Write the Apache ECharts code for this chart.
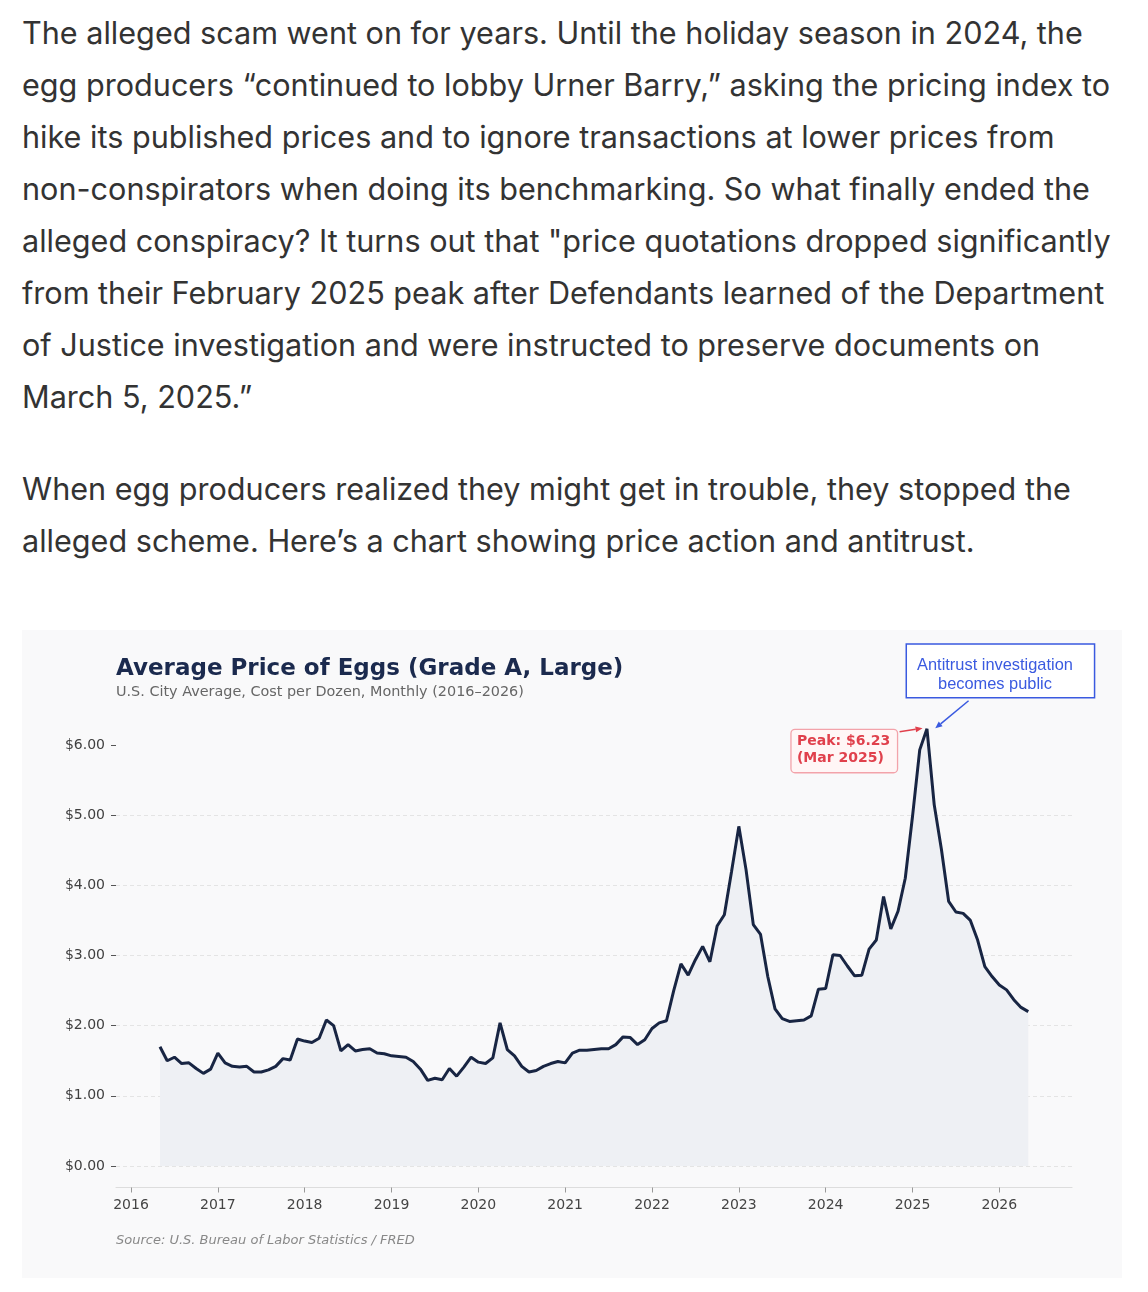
<!DOCTYPE html>
<html>
<head>
<meta charset="utf-8">
<script src="https://cdn.jsdelivr.net/npm/echarts@6/dist/echarts.min.js"></script>
<style>
  html, body { margin: 0; padding: 0; background: #ffffff; }
  body { width: 1148px; height: 1292px; position: relative; overflow: hidden; }
  #text { position: absolute; left: 22px; top: 7px; font-family: Inter, "Noto Sans", sans-serif;
          font-size: 30.6px; line-height: 52px; color: #333333; }
  #text p { margin: 0 0 40px 0; }
  #text span { display: block; white-space: nowrap; }
  #chart { position: absolute; left: 22px; top: 630px; width: 1100px; height: 648px; }
</style>
</head>
<body>
<div id="text">
  <p>
    <span>The alleged scam went on for years. Until the holiday season in 2024, the</span>
    <span>egg producers “continued to lobby Urner Barry,” asking the pricing index to</span>
    <span>hike its published prices and to ignore transactions at lower prices from</span>
    <span>non-conspirators when doing its benchmarking. So what finally ended the</span>
    <span>alleged conspiracy? It turns out that "price quotations dropped significantly</span>
    <span>from their February 2025 peak after Defendants learned of the Department</span>
    <span>of Justice investigation and were instructed to preserve documents on</span>
    <span>March 5, 2025.”</span>
  </p>
  <p>
    <span>When egg producers realized they might get in trouble, they stopped the</span>
    <span>alleged scheme. Here’s a chart showing price action and antitrust.</span>
  </p>
</div>
<div id="chart"></div>
<script>
// monthly average price per dozen, starting May 2016
const startYear = 2016;
const startMonth = 5;
const prices = [
  1.70, 1.50, 1.55, 1.46, 1.47, 1.39, 1.32, 1.38,
  1.61, 1.47, 1.42, 1.41, 1.42, 1.34, 1.34, 1.37, 1.42, 1.53, 1.51, 1.81,
  1.78, 1.76, 1.82, 2.08, 2.00, 1.64, 1.73, 1.64, 1.66, 1.67, 1.61, 1.60,
  1.57, 1.56, 1.55, 1.49, 1.38, 1.22, 1.25, 1.23, 1.39, 1.28, 1.41, 1.55,
  1.48, 1.46, 1.54, 2.04, 1.66, 1.57, 1.42, 1.34, 1.36, 1.42, 1.46, 1.49,
  1.47, 1.61, 1.65, 1.65, 1.66, 1.67, 1.67, 1.73, 1.84, 1.83, 1.73, 1.80,
  1.96, 2.04, 2.07, 2.50, 2.88, 2.72, 2.94, 3.13, 2.91, 3.42, 3.58, 4.20,
  4.84, 4.22, 3.44, 3.30, 2.70, 2.24, 2.10, 2.06, 2.07, 2.08, 2.14, 2.52,
  2.53, 3.01, 3.00, 2.85, 2.71, 2.72, 3.09, 3.22, 3.84, 3.38, 3.63, 4.10,
  4.98, 5.93, 6.23, 5.15, 4.51, 3.77, 3.62, 3.60, 3.50, 3.22, 2.84, 2.70,
  2.58, 2.51, 2.37, 2.26, 2.20
];
const yearTicks = [2016, 2017, 2018, 2019, 2020, 2021, 2022, 2023, 2024, 2025, 2026];
const priceTicks = [0, 1, 2, 3, 4, 5, 6];
const peakLabel = ['Peak: $6.23', '(Mar 2025)'];
const noteLabel = ['Antitrust investigation', 'becomes public'];

const seriesData = prices.map((v, i) => [startYear + (startMonth - 1 + i) / 12, v]);
let peakIdx = 0;
prices.forEach((v, i) => { if (v > prices[peakIdx]) peakIdx = i; });

let myChart = echarts.init(document.getElementById('chart'));
const option = {
  backgroundColor: '#f9f9fa',
  animation: false,
  title: {
    text: 'Average Price of Eggs (Grade A, Large)',
    subtext: 'U.S. City Average, Cost per Dozen, Monthly (2016–2026)',
    left: 94,
    top: 27.5,
    padding: 0,
    itemGap: 5,
    textStyle: { fontFamily: 'DejaVu Sans', fontWeight: 'bold', fontSize: 23, color: '#1b2a4e' },
    subtextStyle: { fontFamily: 'DejaVu Sans', fontSize: 14.4, color: '#666666' }
  },
  grid: { left: 94, right: 50, top: 44.8, bottom: 112, containLabel: false },
  xAxis: {
    type: 'value',
    min: 2015.827,
    max: 2026.837,
    offset: 21.5,
    axisLine: { show: true, onZero: false, lineStyle: { color: '#dddddd', width: 1.2 } },
    axisTick: { show: true, customValues: yearTicks, length: 5, lineStyle: { color: '#999999' } },
    axisLabel: {
      customValues: yearTicks,
      formatter: v => String(Math.round(v)),
      fontFamily: 'DejaVu Sans', fontSize: 14, color: '#444444', margin: 11
    },
    splitLine: { show: false }
  },
  yAxis: {
    type: 'value',
    min: 0,
    max: 7,
    interval: 1,
    axisLine: { show: false },
    axisTick: { show: true, customValues: priceTicks, length: 5, lineStyle: { color: '#555555' } },
    axisLabel: {
      customValues: priceTicks,
      formatter: v => '$' + v.toFixed(2),
      fontFamily: 'DejaVu Sans', fontSize: 14, color: '#3f3f3f', margin: 11
    },
    splitLine: { show: true, showMaxLine: false, lineStyle: { color: '#dedede', type: [4, 3], width: 0.8 } }
  },
  series: [{
    name: 'Price',
    type: 'line',
    data: seriesData,
    showSymbol: false,
    smooth: false,
    lineStyle: { color: '#182543', width: 3 },
    areaStyle: { color: '#eef0f4', opacity: 1 },
    z: 3
  }]
};
myChart.setOption(option);

// arrow: line plus a small filled head at the end point
function arrow(x1, y1, x2, y2, color) {
  const a = Math.atan2(y2 - y1, x2 - x1);
  const L = 7, W = 3;
  const bx = x2 - L * Math.cos(a), by = y2 - L * Math.sin(a);
  const px = -Math.sin(a) * W, py = Math.cos(a) * W;
  return [
    { type: 'line', shape: { x1: x1, y1: y1, x2: bx, y2: by }, style: { stroke: color, lineWidth: 1.5 }, z: 10 },
    { type: 'polygon', shape: { points: [[x2, y2], [bx + px, by + py], [bx - px, by - py]] }, style: { fill: color }, z: 10 }
  ];
}

const p = myChart.convertToPixel({ gridIndex: 0 }, seriesData[peakIdx]);
const red = '#e0404c', blue = '#3a5ae0';
const graphics = [
  // peak callout
  { type: 'rect', shape: { x: p[0] - 136, y: p[1] + 0.5, width: 106.6, height: 43.4, r: 4 },
    style: { fill: '#fff6f6', stroke: '#f3a3aa', lineWidth: 1.3 }, z: 9 },
  { type: 'text', x: p[0] - 130, y: p[1] + 13, z: 11,
    style: { text: peakLabel[0], fill: red, font: 'bold 14px "DejaVu Sans"', verticalAlign: 'middle' } },
  { type: 'text', x: p[0] - 130, y: p[1] + 29.5, z: 11,
    style: { text: peakLabel[1], fill: red, font: 'bold 14px "DejaVu Sans"', verticalAlign: 'middle' } },
  ...arrow(p[0] - 27.4, p[1] + 2.9, p[0] - 4.4, p[1] - 0.5, red),
  // antitrust note
  { type: 'rect', shape: { x: p[0] - 20.7, y: p[1] - 84.8, width: 188.3, height: 53.7 },
    style: { fill: '#ffffff', stroke: blue, lineWidth: 1.5 }, z: 9 },
  { type: 'text', x: p[0] + 68, y: p[1] - 63.5, z: 11,
    style: { text: noteLabel[0], fill: blue, font: '16.4px "Liberation Sans"', align: 'center', verticalAlign: 'middle' } },
  { type: 'text', x: p[0] + 68, y: p[1] - 44.5, z: 11,
    style: { text: noteLabel[1], fill: blue, font: '16.4px "Liberation Sans"', align: 'center', verticalAlign: 'middle' } },
  ...arrow(p[0] + 41.6, p[1] - 28.1, p[0] + 8.3, p[1] - 0.5, blue),
  // source line
  { type: 'text', left: 94, top: 604, z: 11,
    style: { text: 'Source: U.S. Bureau of Labor Statistics / FRED', fill: '#888888', font: 'italic 13px "DejaVu Sans"' } }
];
myChart.setOption({ graphic: graphics });
</script>
</body>
</html>
